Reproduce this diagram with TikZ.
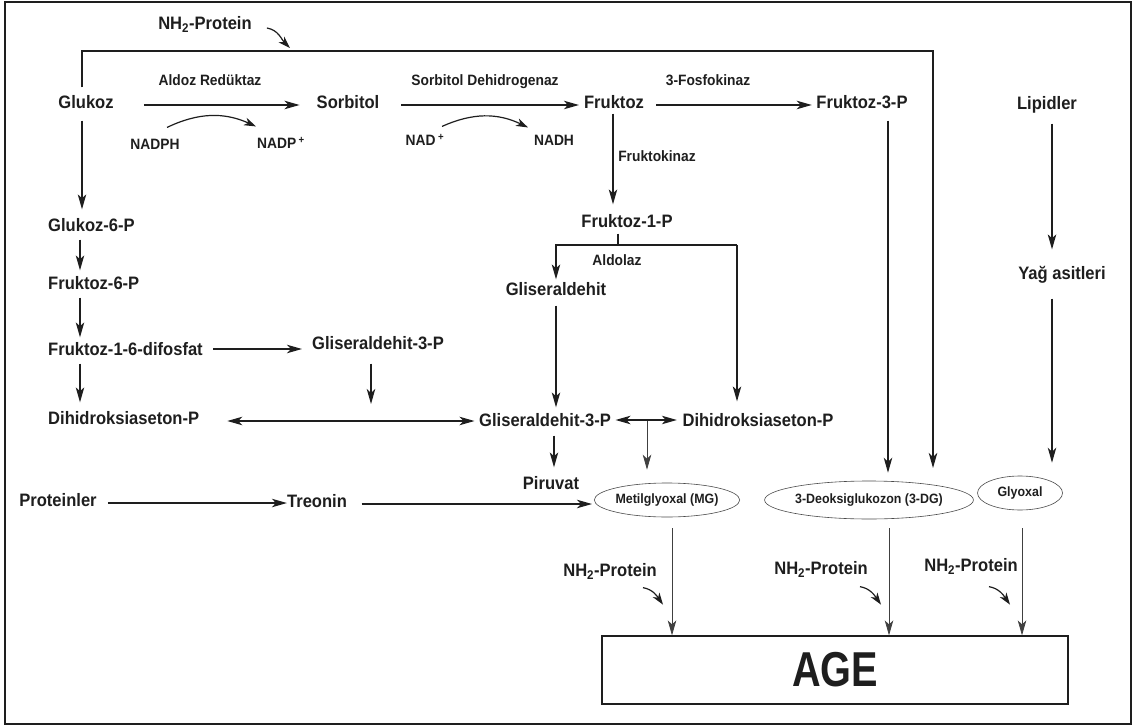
\documentclass[tikz,border=0pt]{standalone}
\usepackage{graphicx}
\usepackage{fontspec}
\setmainfont{Liberation Sans}[FakeStretch=0.92]
\usetikzlibrary{arrows.meta,shapes.geometric,calc}
\definecolor{ink}{HTML}{1E1E1E}
\begin{document}
\begin{tikzpicture}[x=1pt,y=-1pt,
  every node/.style={inner sep=0pt, text=ink},
  lbl/.style={font=\fontsize{18}{20}\selectfont\bfseries, text height=12.9pt, text depth=0pt},
  sml/.style={font=\fontsize{15}{17}\selectfont\bfseries, text height=10.7pt, text depth=0pt},
  ell/.style={ellipse, draw=ink!80, line width=0.6pt, font=\fontsize{13.5}{15}\selectfont\bfseries},
  conn/.style={draw=ink, line width=1.2pt},
  tip/.tip={Stealth[length=15pt,width=8.5pt,inset=4pt]},
  arr/.style={conn, -tip},
  darr/.style={conn, tip-tip},
  carr/.style={conn, -{Stealth[length=12pt,width=8pt,inset=3.5pt]}},
  garr/.style={draw=ink!85, line width=0.8pt, -tip},
  harr/.style={transform canvas={yshift=-3pt}},
]
\useasboundingbox (0,0) rectangle (1134,727);
\draw[conn] (5,2) rectangle (1131,724);

% nodes
\node[lbl] (nh2t) at (205,23) {NH\textsubscript{2}-Protein};
\node[lbl] (glukoz) at (86,102) {Glukoz};
\node[sml] (aldred) at (210,80) {Aldoz Redüktaz};
\node[lbl] (sorb) at (348,102) {Sorbitol};
\node[sml] (nadph) at (155,144) {NADPH};
\node[sml] (nadpp) at (281,143) {NADP\,\textsuperscript{+}};
\node[sml] (sdh) at (485,80) {Sorbitol Dehidrogenaz};
\node[lbl] (fruk) at (614,102) {Fruktoz};
\node[sml] (nadp) at (425,140) {NAD\,\textsuperscript{+}};
\node[sml] (nadh) at (554,140) {NADH};
\node[sml] (fosfo) at (708,80) {3-Fosfokinaz};
\node[lbl] (f3p) at (862,102) {Fruktoz-3-P};
\node[lbl] (lip) at (1047,103) {Lipidler};
\node[sml] (fkin) at (657,156) {Fruktokinaz};
\node[lbl] (f1p) at (627,221) {Fruktoz-1-P};
\node[sml] (aldolaz) at (617,260) {Aldolaz};
\node[lbl] (gli) at (556,289) {Gliseraldehit};
\node[lbl] (g3pm) at (545,420) {Gliseraldehit-3-P};
\node[lbl] (dhapr) at (758,420) {Dihidroksiaseton-P};
\node[lbl] (piru) at (551,483) {Piruvat};
\node[lbl, anchor=west] (g6p) at (48,225) {Glukoz-6-P};
\node[lbl, anchor=west] (f6p) at (48,283) {Fruktoz-6-P};
\node[lbl, anchor=west] (f16) at (48,349) {Fruktoz-1-6-difosfat};
\node[lbl, anchor=west] (dhapl) at (48,418) {Dihidroksiaseton-P};
\node[lbl] (g3pl) at (378,343) {Gliseraldehit-3-P};
\node[lbl] (prot) at (58,500) {Proteinler};
\node[lbl] (treo) at (317,501) {Treonin};
\node[ell, minimum width=126pt, minimum height=34pt] (mg) at (667,500) {Metilglyoxal (MG)};
\node[ell, minimum width=164pt, minimum height=38pt] (tdg) at (869,500) {3-Deoksiglukozon (3-DG)};
\node[ell, minimum width=85pt, minimum height=34pt] (gly) at (1020,493) {Glyoxal};
\node[lbl] (yag) at (1062,273) {Yağ asitleri};
\node[draw=ink, line width=1.2pt, minimum width=466pt, minimum height=68pt] (age) at (835,670)
  {\fontsize{49}{51}\selectfont\bfseries\scalebox{0.88}[1]{AGE}};
\node[lbl] (nh2a) at (610,570) {NH\textsubscript{2}-Protein};
\node[lbl] (nh2b) at (821,568) {NH\textsubscript{2}-Protein};
\node[lbl] (nh2c) at (971,565) {NH\textsubscript{2}-Protein};

% coordinates
\coordinate (lc) at (82,0);
\coordinate (lc2) at (80,0);
\coordinate (tl) at (82,51);
\coordinate (tr) at (933,51);
\coordinate (trend) at (933,468);
\coordinate (bm) at (618,245);
\coordinate (br) at (737,245);
\coordinate (dm) at (647,421);
\coordinate (gd) at (371,404);
\coordinate (rc) at (1052,0);

% top NH2 path
\draw[arr, shorten <=8pt] (glukoz.north -| lc) -- (tl) -- (tr) -- (trend);
\draw[carr] ([shift={(15,5)}]nh2t.east) to[out=-10,in=135] ([shift={(38,25)}]nh2t.east);

% top row
\draw[arr, harr, shorten <=30pt, shorten >=17pt] (glukoz.east) -- (sorb.west);
\draw[arr, harr, shorten <=22pt, shorten >=5pt] (sorb.east) -- (fruk.west);
\draw[arr, harr, shorten <=12pt, shorten >=4.5pt] (fruk.east) -- (f3p.west);
\draw[carr] ([shift={(12,-11)}]nadph.north) to[bend left=25] ([shift={(-25,-11)}]nadpp.north);
\draw[carr] ([shift={(17,-8)}]nadp.north) to[bend left=25] ([shift={(-26,-7)}]nadh.north);

% fruktoz branch
\draw[arr, shorten <=5pt, shorten >=10pt] ([xshift=-1pt]fruk.south) -- ([xshift=-1pt]fruk.south |- f1p.north);
\draw[conn, shorten <=6pt] (f1p.south -| bm) -- (bm);
\draw[arr, shorten >=3pt] (br) -| (gli.north);
\draw[arr, shorten >=12pt] (br) -- (br |- dhapr.north);
\draw[arr, shorten <=10pt, shorten >=6pt] (gli.south) -- (gli.south |- g3pm.north);
\draw[darr, shorten <=4.5pt, shorten >=5.5pt] (g3pm.east) -- (dhapr.west);
\draw[garr, shorten >=13pt] (dm) -- (dm |- mg.north);
\draw[arr, shorten <=9pt, shorten >=9pt] ([xshift=3pt]piru.north |- g3pm.south) -- ([xshift=3pt]piru.north);

% left column
\draw[arr, shorten <=12pt, shorten >=9pt] (lc |- glukoz.south) -- (lc |- g6p.north);
\draw[arr, shorten <=8pt, shorten >=6pt] (lc2 |- g6p.south) -- (lc2 |- f6p.north);
\draw[arr, shorten <=8pt, shorten >=5pt] (lc2 |- f6p.south) -- (lc2 |- f16.north);
\draw[arr, shorten <=8pt, shorten >=9pt] (lc2 |- f16.south) -- (lc2 |- dhapl.north);
\draw[arr, shorten <=10.5pt, shorten >=10pt] (f16.east) -- (f16.east -| g3pl.west);
\draw[arr, shorten <=14pt] (g3pl.south -| gd) -- (gd);
\draw[darr, harr, shorten <=28pt, shorten >=4.5pt] (dhapl.east) -- (dhapl.east -| g3pm.west);

% bottom row
\draw[arr, harr, shorten <=11pt] (prot.east) -- (prot.east -| treo.west);
\draw[arr, harr, shorten <=14.5pt, shorten >=2pt] (treo.east) -- (treo.east -| mg.west);

% right side
\draw[arr, shorten <=12pt, shorten >=8pt] ([xshift=26pt]f3p.south) -- ([xshift=19pt]tdg.north);
\draw[arr, shorten <=14pt, shorten >=17pt] (rc |- lip.south) -- (rc |- yag.north);
\draw[arr, shorten <=19pt, shorten >=13pt] (rc |- yag.south) -- (rc |- gly.north);

% to AGE
\draw[garr, shorten <=11pt] ([xshift=5pt]mg.south) -- ([xshift=5pt]mg.south |- age.north);
\draw[garr, shorten <=9pt] ([xshift=20pt]tdg.south) -- ([xshift=20pt]tdg.south |- age.north);
\draw[garr, shorten <=18pt] ([xshift=2pt]gly.south) -- ([xshift=2pt]gly.south |- age.north);
\draw[carr] ([shift={(33,11)}]nh2a.south) to[out=-10,in=125] ([shift={(53,28)}]nh2a.south);
\draw[carr] ([shift={(39,12)}]nh2b.south) to[out=-10,in=125] ([shift={(60,30)}]nh2b.south);
\draw[carr] ([shift={(18,15)}]nh2c.south) to[out=-10,in=125] ([shift={(39,33)}]nh2c.south);
\end{tikzpicture}
\end{document}
